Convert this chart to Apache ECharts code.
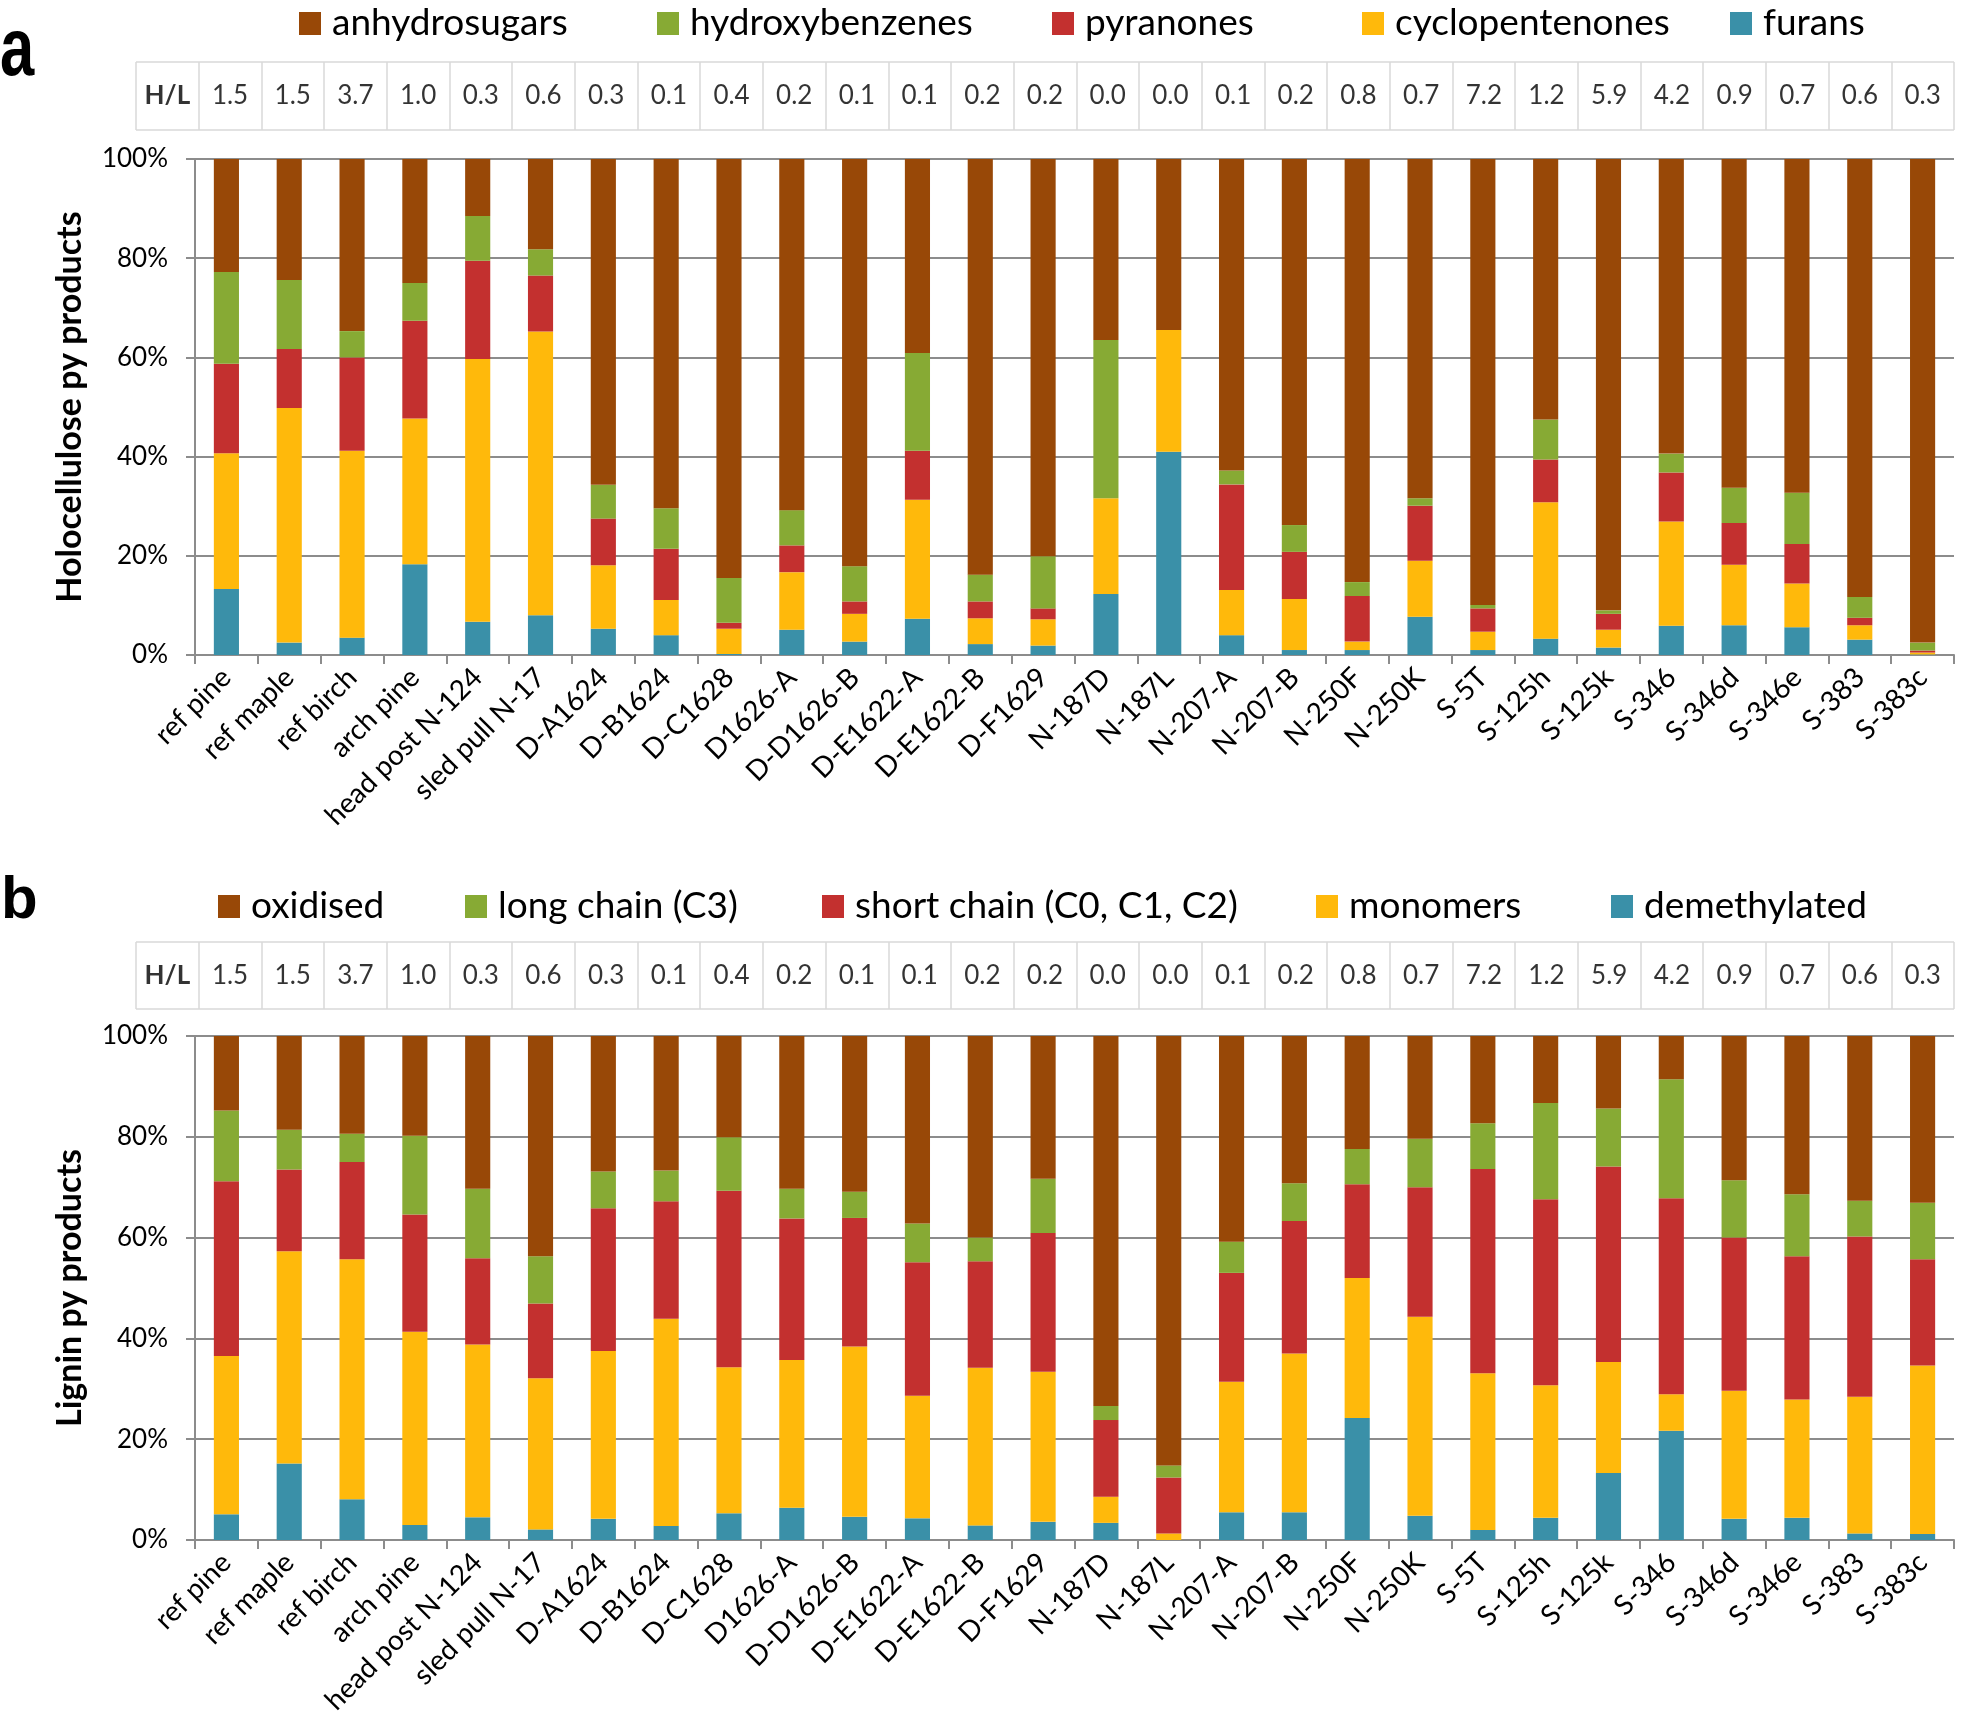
<!DOCTYPE html>
<html><head><meta charset="utf-8">
<script src="https://cdn.jsdelivr.net/npm/echarts@6/dist/echarts.min.js"></script>
<style>html,body{margin:0;padding:0;background:#fff}#c{width:1961px;height:1720px}</style>
</head><body><div id="c"></div>
<script>
const categories = ['ref pine','ref maple','ref birch','arch pine','head post N-124','sled pull N-17','D-A1624','D-B1624','D-C1628','D1626-A','D-D1626-B','D-E1622-A','D-E1622-B','D-F1629','N-187D','N-187L','N-207-A','N-207-B','N-250F','N-250K','S-5T','S-125h','S-125k','S-346','S-346d','S-346e','S-383','S-383c'];
const hlRatios = ['1.5','1.5','3.7','1.0','0.3','0.6','0.3','0.1','0.4','0.2','0.1','0.1','0.2','0.2','0.0','0.0','0.1','0.2','0.8','0.7','7.2','1.2','5.9','4.2','0.9','0.7','0.6','0.3'];

// Panel a: holocellulose py products (%)
const furans          = [13.3, 2.5, 3.5,18.3, 6.7, 8.0, 5.3, 4.0, 0.2, 5.1, 2.7, 7.3, 2.2, 1.9,12.3,41.0, 4.0, 1.0, 1.0, 7.7, 1.0, 3.3, 1.5, 5.9, 6.0, 5.6, 3.1, 0.1];
const cyclopentenones = [27.4,47.3,37.7,29.4,53.0,57.2,12.8, 7.1, 5.1,11.6, 5.6,24.0, 5.2, 5.3,19.3,24.5, 9.1,10.3, 1.7,11.3, 3.7,27.5, 3.6,21.0,12.2, 8.8, 2.9, 0.4];
const pyranones       = [18.0,11.9,18.8,19.7,19.8,11.3, 9.4,10.3, 1.2, 5.4, 2.5, 9.9, 3.4, 2.2, 0.0, 0.0,21.3, 9.5, 9.2,11.1, 4.7, 8.6, 3.2, 9.9, 8.4, 8.0, 1.5, 0.4];
const hydroxybenzenes = [18.5,13.9, 5.3, 7.6, 9.0, 5.3, 6.8, 8.2, 9.0, 7.1, 7.1,19.7, 5.4,10.5,31.9, 0.0, 2.8, 5.4, 2.8, 1.5, 0.7, 8.1, 0.7, 3.8, 7.1,10.3, 4.2, 1.6];
const anhydrosugars   = [22.8,24.4,34.7,25.0,11.5,18.2,65.7,70.4,84.5,70.8,82.1,39.1,83.8,80.1,36.5,34.5,62.8,73.8,85.3,68.4,89.9,52.5,91.0,59.4,66.3,67.3,88.3,97.5];

// Panel b: lignin py products (%)
const demethylated = [ 5.1,15.2, 8.1, 3.0, 4.5, 2.1, 4.2, 2.8, 5.3, 6.4, 4.6, 4.3, 2.9, 3.6, 3.4, 0.0, 5.5, 5.5,24.2, 4.8, 2.0, 4.4,13.3,21.7, 4.2, 4.4, 1.3, 1.2];
const monomers     = [31.4,42.1,47.6,38.3,34.3,30.0,33.3,41.1,29.0,29.3,33.8,24.3,31.3,29.8, 5.2, 1.3,25.9,31.5,27.8,39.5,31.1,26.3,22.0, 7.2,25.4,23.5,27.1,33.4];
const shortChain   = [34.7,16.2,19.3,23.3,17.1,14.8,28.3,23.3,35.0,28.1,25.5,26.5,21.1,27.5,15.2,11.1,21.6,26.3,18.6,25.7,40.5,36.9,38.8,38.9,30.4,28.4,31.8,21.1];
const longChain    = [14.0, 7.9, 5.6,15.6,13.8, 9.4, 7.3, 6.1,10.6, 5.9, 5.2, 7.7, 4.7,10.8, 2.8, 2.4, 6.2, 7.5, 7.0, 9.6, 9.1,19.1,11.5,23.6,11.4,12.3, 7.1,11.2];
const oxidised     = [14.8,18.6,19.4,19.8,30.3,43.7,26.9,26.7,20.1,30.3,30.9,37.2,40.0,28.3,73.4,85.2,40.8,29.2,22.4,20.4,17.3,13.3,14.4, 8.6,28.6,31.4,32.7,33.1];

const C = {brown:'#984807', green:'#87AA34', red:'#C3302F', yellow:'#FFB90B', teal:'#3A90A8'};
const FONT = 'Lato';
const GRIDC = '#8c8c8c';
const tableCells = ['H/L'].concat(hlRatios);

function tableAxes(gi){
  return {
    x:{type:'category', gridIndex:gi, data:tableCells, boundaryGap:true,
       axisLine:{show:false}, axisTick:{show:false}, axisLabel:{show:false},
       splitLine:{show:true, interval:0, lineStyle:{color:'#d9d9d9', width:1.5}}},
    y:{type:'value', gridIndex:gi, min:0, max:1, interval:1,
       axisLine:{show:false}, axisTick:{show:false}, axisLabel:{show:false},
       splitLine:{show:true, lineStyle:{color:'#d9d9d9', width:1.5}}}
  };
}
function plotAxes(gi, title){
  return {
    x:{type:'category', gridIndex:gi, data:categories, boundaryGap:true,
       axisLine:{show:true, lineStyle:{color:GRIDC, width:2}},
       axisTick:{show:true, interval:0, length:9, lineStyle:{color:GRIDC, width:2}},
       axisLabel:{interval:0, rotate:45, fontSize:28, color:'#000', fontFamily:FONT, margin:18},
       splitLine:{show:false}},
    y:{type:'value', gridIndex:gi, min:0, max:100, interval:20,
       axisLine:{show:true, lineStyle:{color:GRIDC, width:2}},
       axisTick:{show:true, length:9, lineStyle:{color:GRIDC, width:2}},
       axisLabel:{formatter:'{value}%', fontSize:26, color:'#000', fontFamily:FONT, margin:27},
       splitLine:{show:true, lineStyle:{color:GRIDC, width:2}},
       name:title, nameLocation:'middle', nameGap:108,
       nameTextStyle:{fontSize:34, fontWeight:'bold', color:'#000', fontFamily:FONT}}
  };
}
const ta = tableAxes(0), pa = plotAxes(1,'Holocellulose py products');
const tb = tableAxes(2), pb = plotAxes(3,'Lignin py products');

function tableSeries(xi){
  return {type:'scatter', xAxisIndex:xi, yAxisIndex:xi, symbolSize:1, silent:true,
    itemStyle:{color:'rgba(0,0,0,0)'},
    data: tableCells.map((t,i)=>({value:[i,0.5], label: i===0?{fontWeight:'bold'}:{}})),
    label:{show:true, position:'inside', formatter:p=>tableCells[p.dataIndex], fontSize:26, color:'#000', fontFamily:FONT}};
}
function bar(name, data, color, xi){
  return {type:'bar', name, data, stack:'s'+xi, xAxisIndex:xi, yAxisIndex:xi,
    barWidth:'40%', itemStyle:{color}, emphasis:{disabled:true}};
}
function leg(name, left, top){
  return {data:[name], left, top, itemWidth:22, itemHeight:23, icon:'rect',
    textStyle:{fontSize:37, color:'#000', fontFamily:FONT, padding:[0,0,0,6]}, selectedMode:false};
}

const option = {
  animation:false,
  textStyle:{fontFamily:FONT},
  graphic:[
    {type:'text', left:0, top:11, scaleX:0.75, style:{text:'a', font:'bold 82px "Liberation Sans"', fill:'#000'}},
    {type:'text', left:1, top:871, style:{text:'b', font:'bold 60px "Liberation Sans"', fill:'#000'}}
  ],
  legend:[
    leg('anhydrosugars',294,0), leg('hydroxybenzenes',652,0), leg('pyranones',1047,0),
    leg('cyclopentenones',1357,0), leg('furans',1725,0),
    leg('oxidised',213,883), leg('long chain (C3)',460,883), leg('short chain (C0, C1, C2)',817,883),
    leg('monomers',1311,883), leg('demethylated',1606,883)
  ],
  grid:[
    {left:136, right:7, top:62, height:68},
    {left:195, right:7, top:159, height:496},
    {left:136, right:7, top:942, height:67},
    {left:195, right:7, top:1036, height:504}
  ],
  xAxis:[ta.x, pa.x, tb.x, pb.x],
  yAxis:[ta.y, pa.y, tb.y, pb.y],
  series:[
    tableSeries(0),
    bar('furans', furans, C.teal, 1),
    bar('cyclopentenones', cyclopentenones, C.yellow, 1),
    bar('pyranones', pyranones, C.red, 1),
    bar('hydroxybenzenes', hydroxybenzenes, C.green, 1),
    bar('anhydrosugars', anhydrosugars, C.brown, 1),
    tableSeries(2),
    bar('demethylated', demethylated, C.teal, 3),
    bar('monomers', monomers, C.yellow, 3),
    bar('short chain (C0, C1, C2)', shortChain, C.red, 3),
    bar('long chain (C3)', longChain, C.green, 3),
    bar('oxidised', oxidised, C.brown, 3)
  ]
};
const chart = echarts.init(document.getElementById('c'), null, {renderer:'canvas'});
chart.setOption(option);
</script></body></html>
